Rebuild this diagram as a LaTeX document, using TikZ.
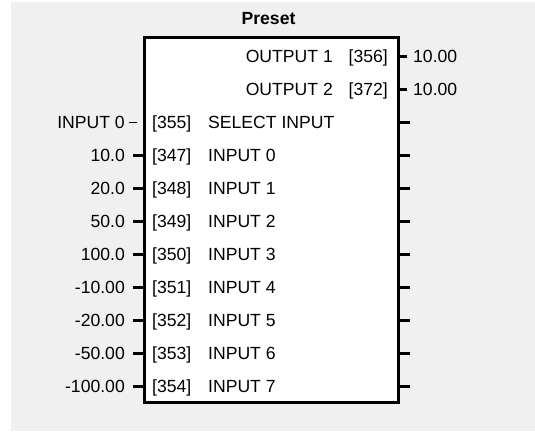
\documentclass[tikz,border=0pt]{standalone}
\usepackage{fontspec}
\setmainfont{Liberation Sans}
\usepackage{xcolor}
\usepackage{tikz}
\definecolor{panel}{HTML}{F0F0F0}
\tikzset{
  blockbox/.style={draw=black, line width=2.7pt, fill=white, inner sep=0pt,
    minimum width=254pt, minimum height=365pt, anchor=north west},
  celltext/.style={inner sep=0pt, text height=12.7pt, text depth=0pt,
    font=\fontsize{17.6}{20}\selectfont},
  valtext/.style={celltext, anchor=east},
  numtext/.style={celltext, anchor=west},
  nametext/.style={celltext, anchor=west},
  outval/.style={celltext, anchor=west},
  title/.style={celltext, font=\fontsize{17.6}{20}\selectfont\bfseries},
  stub/.style={line width=3pt, draw=black},
  thinstub/.style={line width=0.8pt, draw=black}
}
% one parameter row on the input side
\newcommand{\inrow}[5]{%
  \node[valtext] (v#1) at (125,#2) {#3};
  \node[numtext] (n#1) at (152,#2) {[#4]};
  \node[nametext] (l#1) at (208,#2) {#5};
  \draw[stub] ([xshift=8pt]v#1.east) -- (v#1.east -| blk.west);
  \draw[stub] (v#1.east -| blk.east) -- ++(10,0);
}

\begin{document}
\begin{tikzpicture}[x=1pt,y=-1pt]
\useasboundingbox (0,0) rectangle (535,432);
\fill[panel] (11,2) rectangle (535,431);

\node[title] (ttl) at (268.5,18) {Preset};
\node[blockbox] (blk) at (143,36) {};

% outputs
\node[valtext] (o1name) at (333,56) {OUTPUT 1};
\node[valtext] (o1num) at (388,56) {[356]};
\node[outval] (o1val) at (413,56) {10.00};
\node[valtext] (o2name) at (333,89) {OUTPUT 2};
\node[valtext] (o2num) at (388,89) {[372]};
\node[outval] (o2val) at (413,89) {10.00};
\draw[stub] (o1val.west -| blk.east) -- ([xshift=-6pt]o1val.west);
\draw[stub] (o2val.west -| blk.east) -- ([xshift=-6pt]o2val.west);

% select input
\node[valtext] (vsel) at (125,122) {INPUT 0};
\node[numtext] (nsel) at (152,122) {[355]};
\node[nametext] (lsel) at (208,122) {SELECT INPUT};
\draw[thinstub] ([xshift=3.5pt]vsel.east) -- ++(8,0);
\draw[stub] (vsel.east -| blk.east) -- ++(10,0);

% preset inputs
\inrow{0}{155}{10.0}{347}{INPUT 0}
\inrow{1}{188}{20.0}{348}{INPUT 1}
\inrow{2}{221}{50.0}{349}{INPUT 2}
\inrow{3}{254}{100.0}{350}{INPUT 3}
\inrow{4}{287}{-10.00}{351}{INPUT 4}
\inrow{5}{320}{-20.00}{352}{INPUT 5}
\inrow{6}{353}{-50.00}{353}{INPUT 6}
\inrow{7}{386}{-100.00}{354}{INPUT 7}

\end{tikzpicture}
\end{document}
